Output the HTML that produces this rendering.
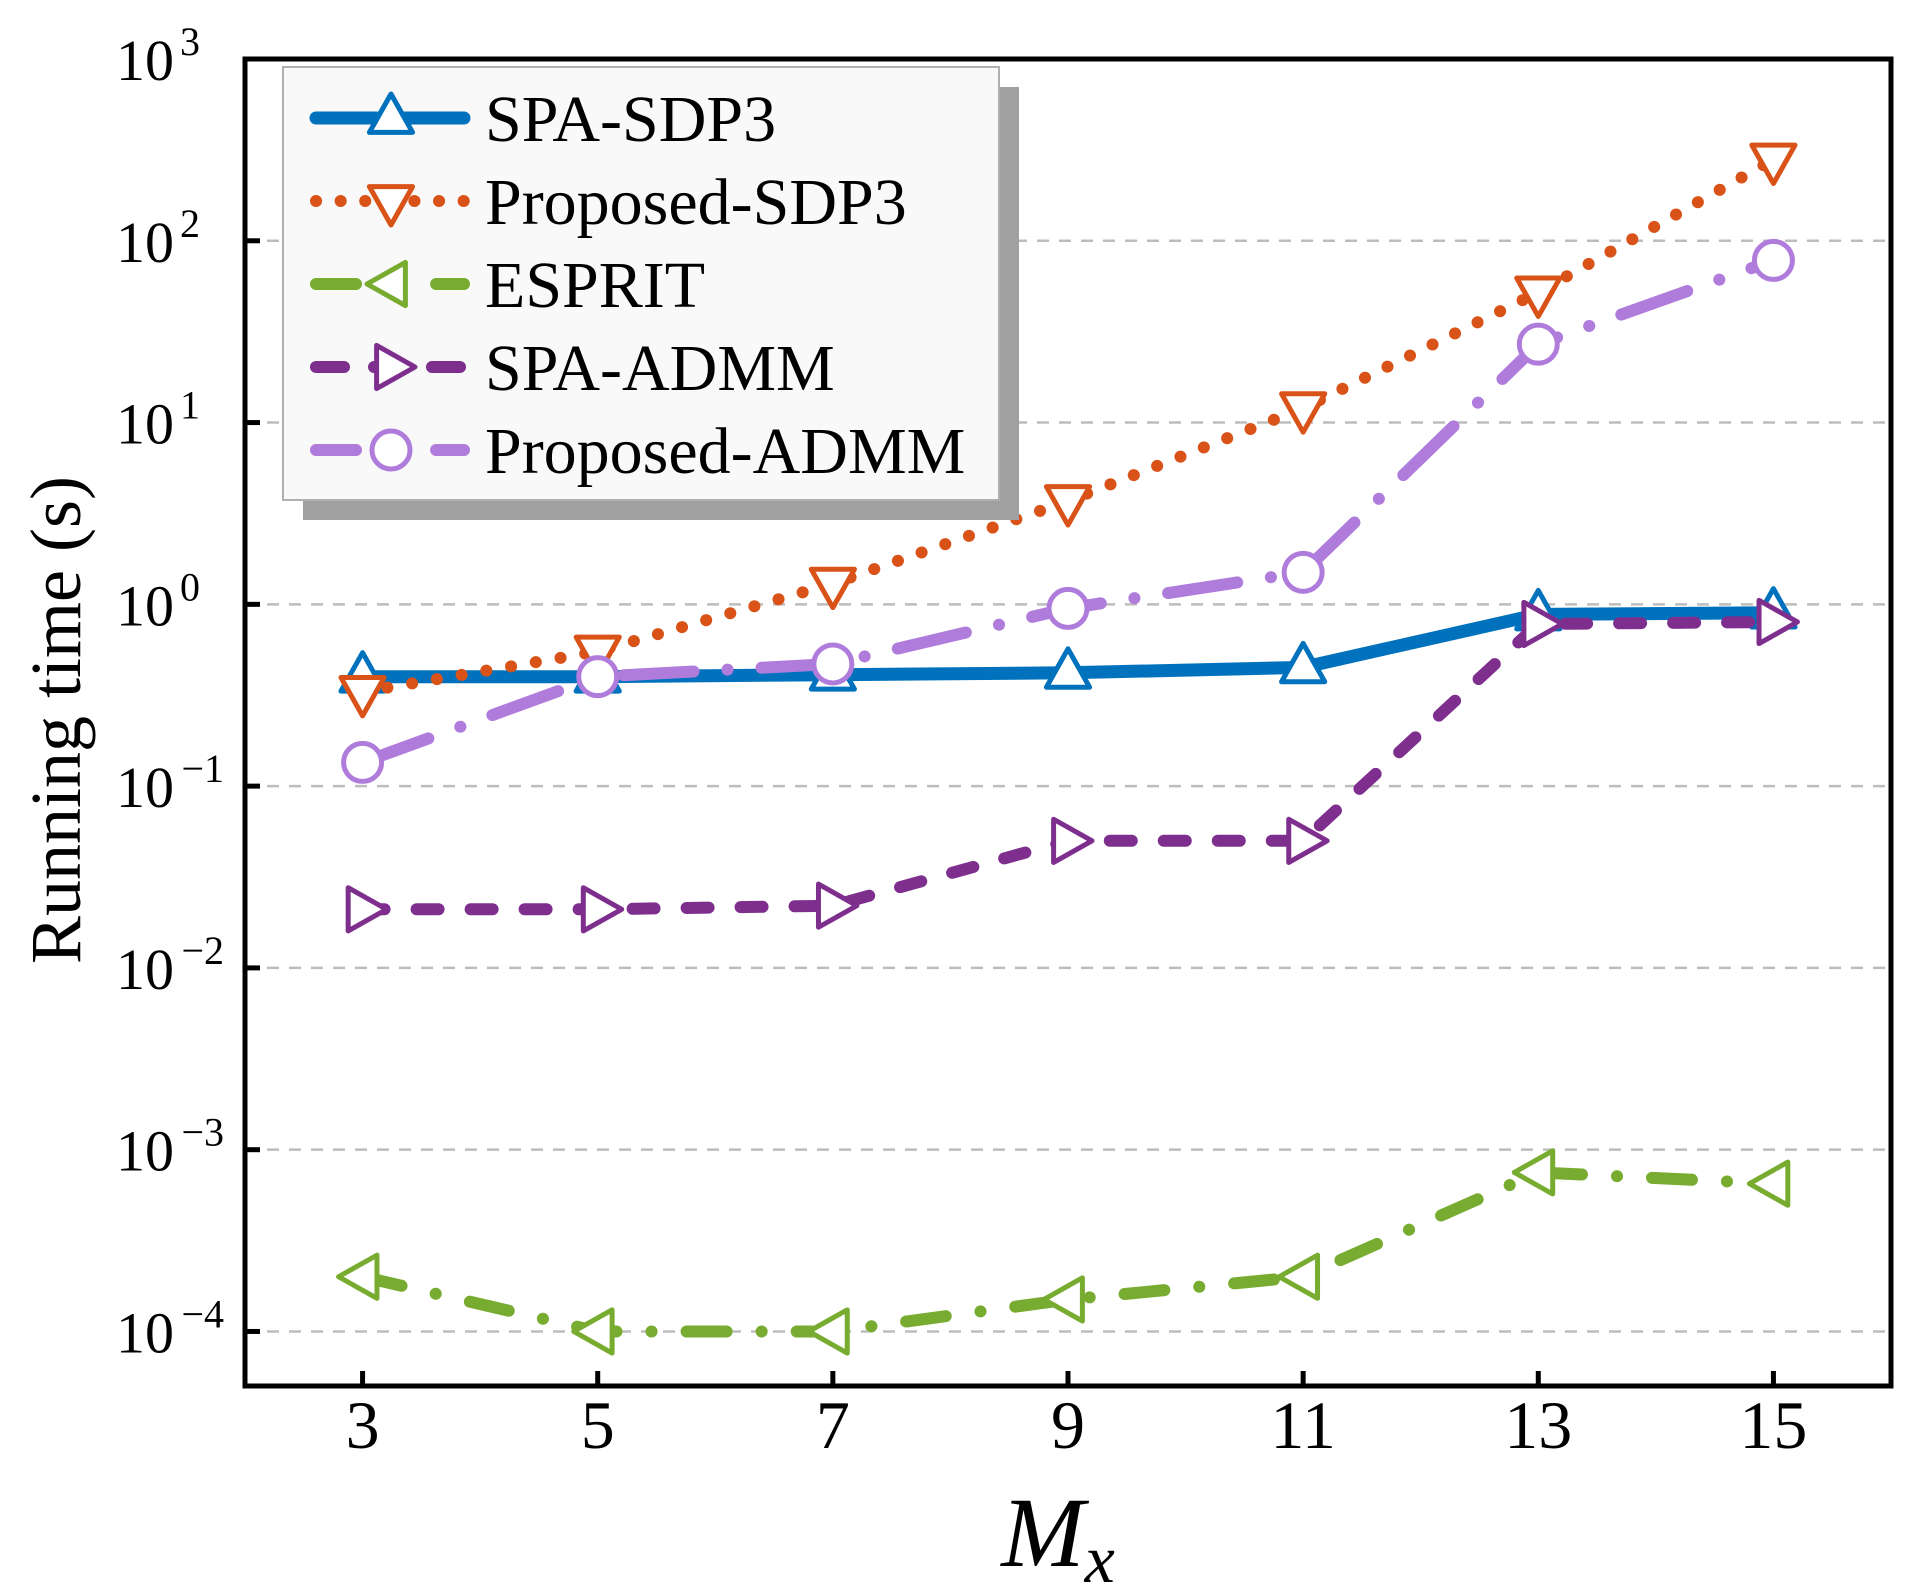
<!DOCTYPE html>
<html><head><meta charset="utf-8"><style>
html,body{margin:0;padding:0;background:#fff;}
svg{display:block;font-family:"Liberation Serif","DejaVu Serif",serif;}
</style></head><body>
<svg id="chart" width="1920" height="1593" viewBox="0 0 1920 1593" xmlns="http://www.w3.org/2000/svg">
<rect x="0" y="0" width="1920" height="1593" fill="#fff"/>
<g id="grid"></g>
<g id="series"></g>
<rect x="245" y="59" width="1646" height="1327" fill="none" stroke="#000" stroke-width="5"/>
<g id="ticks"></g>
<text transform="translate(80,720) rotate(-90)" text-anchor="middle" font-size="72">Running time (s)</text>
<text x="1058" y="1566" text-anchor="middle" font-size="100" font-style="italic">M<tspan font-size="68" dy="16">x</tspan></text>
<g id="legend">
<rect x="303" y="87" width="716" height="433" fill="#a0a0a0"/>
<rect x="283" y="67" width="716" height="433" fill="#f9f9f9" stroke="#b0b0b0" stroke-width="2"/>
</g>
</svg>
<script>
const categories = [3, 5, 7, 9, 11, 13, 15];
const seriesNames = ["SPA-SDP3", "Proposed-SDP3", "ESPRIT", "SPA-ADMM", "Proposed-ADMM"];
const spaSdp3 = [0.40, 0.40, 0.41, 0.42, 0.45, 0.88, 0.90];
const proposedSdp3 = [0.33, 0.55, 1.3, 3.7, 12, 52, 280];
const esprit = [2e-4, 1e-4, 1e-4, 1.5e-4, 2e-4, 7.5e-4, 6.5e-4];
const spaAdmm = [0.021, 0.021, 0.022, 0.05, 0.05, 0.78, 0.80];
const proposedAdmm = [0.135, 0.40, 0.47, 0.95, 1.5, 27, 78];
const yTickExps = [3, 2, 1, 0, -1, -2, -3, -4];
const xTickLabels = ["3", "5", "7", "9", "11", "13", "15"];

const NS = "http://www.w3.org/2000/svg";
const L = 245, R = 1891, T = 59, B = 1386;
const xMin = 2.0, xMax = 16.0, yMin = -4.3, yMax = 3.0;
function xs(v){ return L + (v - xMin) / (xMax - xMin) * (R - L); }
function ys(v){ return T + (yMax - Math.log10(v)) / (yMax - yMin) * (B - T); }
function mk(tag, attrs, parent){
  const e = document.createElementNS(NS, tag);
  for (const k in attrs) e.setAttribute(k, attrs[k]);
  parent.appendChild(e); return e;
}
const grid = document.getElementById('grid');
const ticks = document.getElementById('ticks');
yTickExps.forEach(p => {
  const y = ys(Math.pow(10, p));
  if (p < 3) {
    const g = mk('line', {x1:L, x2:R, y1:y, y2:y, stroke:'#bdbdbd', 'stroke-width':2.5, 'stroke-dasharray':'12,10'}, grid);
    
    
  }
  const t = mk('line', {x1:L, x2:L+15, y1:y, y2:y, stroke:'#000', 'stroke-width':5}, ticks);
  
  
  const tx = mk('text', {x:174, y:y+21, 'text-anchor':'end', 'font-size':58}, ticks);
  
  
  tx.textContent = '10';
  const sup = mk('tspan', {x:(p<0?224:200), y:y-4, 'text-anchor':'end', 'font-size':40}, tx);
  sup.textContent = p < 0 ? '\u2212' + (-p) : String(p);
});
categories.forEach((c, i) => {
  const x = xs(c);
  const t = mk('line', {x1:x, x2:x, y1:B, y2:B-15, stroke:'#000', 'stroke-width':5}, ticks);
  
  
  const tx = mk('text', {x:x, y:1448, 'text-anchor':'middle', 'font-size':68}, ticks);
  
  
  tx.textContent = xTickLabels[i];
});

const styles = [
  {data: spaSdp3, color:'#0072BD', dash:'', marker:'up', name:'spa-sdp3'},
  {data: proposedSdp3, color:'#D95319', dash:'0.1,25', marker:'down', name:'proposed-sdp3'},
  {data: esprit, color:'#77AC30', dash:'40,35,0.1,35', marker:'left', name:'esprit'},
  {data: spaAdmm, color:'#7E2F8E', dash:'22,32', marker:'right', name:'spa-admm'},
  {data: proposedAdmm, color:'#B07CDC', dash:'70,34,0.1,34', marker:'circle', name:'proposed-admm'}
];
function marker(parent, type, x, y, color){
  const s = 24;
  let e;
  if (type === 'circle') {
    e = mk('circle', {cx:x, cy:y, r:19, fill:'#fff', stroke:color, 'stroke-width':5}, parent);
  } else {
    let pts;
    if (type === 'up') pts = [[x, y-s],[x-s*0.9, y+s*0.6],[x+s*0.9, y+s*0.6]];
    if (type === 'down') pts = [[x, y+s],[x-s*0.9, y-s*0.6],[x+s*0.9, y-s*0.6]];
    if (type === 'left') pts = [[x-s, y],[x+s*0.6, y-s*0.9],[x+s*0.6, y+s*0.9]];
    if (type === 'right') pts = [[x+s, y],[x-s*0.6, y-s*0.9],[x-s*0.6, y+s*0.9]];
    e = mk('polygon', {points: pts.map(p => p.join(',')).join(' '), fill:'#fff', stroke:color, 'stroke-width':5, 'stroke-linejoin':'round'}, parent);
  }
  return e;
}
const series = document.getElementById('series');
styles.forEach(st => {
  const g = mk('g', {}, series);
  
  
  const pts = categories.map((c, i) => xs(c).toFixed(1) + ',' + ys(st.data[i]).toFixed(1)).join(' ');
  const ln = mk('polyline', {points:pts, fill:'none', stroke:st.color, 'stroke-width':(st.dash===''?13:12), 'stroke-linecap':'round', 'stroke-linejoin':'round'}, g);
  if (st.dash) ln.setAttribute('stroke-dasharray', st.dash);
  
  
  categories.forEach((c, i) => {
    const m = marker(g, st.marker, xs(c), ys(st.data[i]), st.color);
    
    
  });
});
const legend = document.getElementById('legend');
const rowY = [118, 201, 284, 367, 450];
styles.forEach((st, i) => {
  const g = mk('g', {}, legend);
  
  
  const y = rowY[i];
  const ln = mk('line', {x1:316, x2:464, y1:y, y2:y, stroke:st.color, 'stroke-width':(st.dash===''?13:12), 'stroke-linecap':'round'}, g);
  if (st.dash) ln.setAttribute('stroke-dasharray', st.dash === '22,32' ? '28,30' : (st.dash==='0.1,25' ? '0.1,24.5' : '40,40,0.1,40'));
  marker(g, st.marker, 391, y, st.color);
  const tx = mk('text', {x:485, y:y+23, 'font-size':66}, g);
  tx.textContent = seriesNames[i];
});
</script>
</body></html>
